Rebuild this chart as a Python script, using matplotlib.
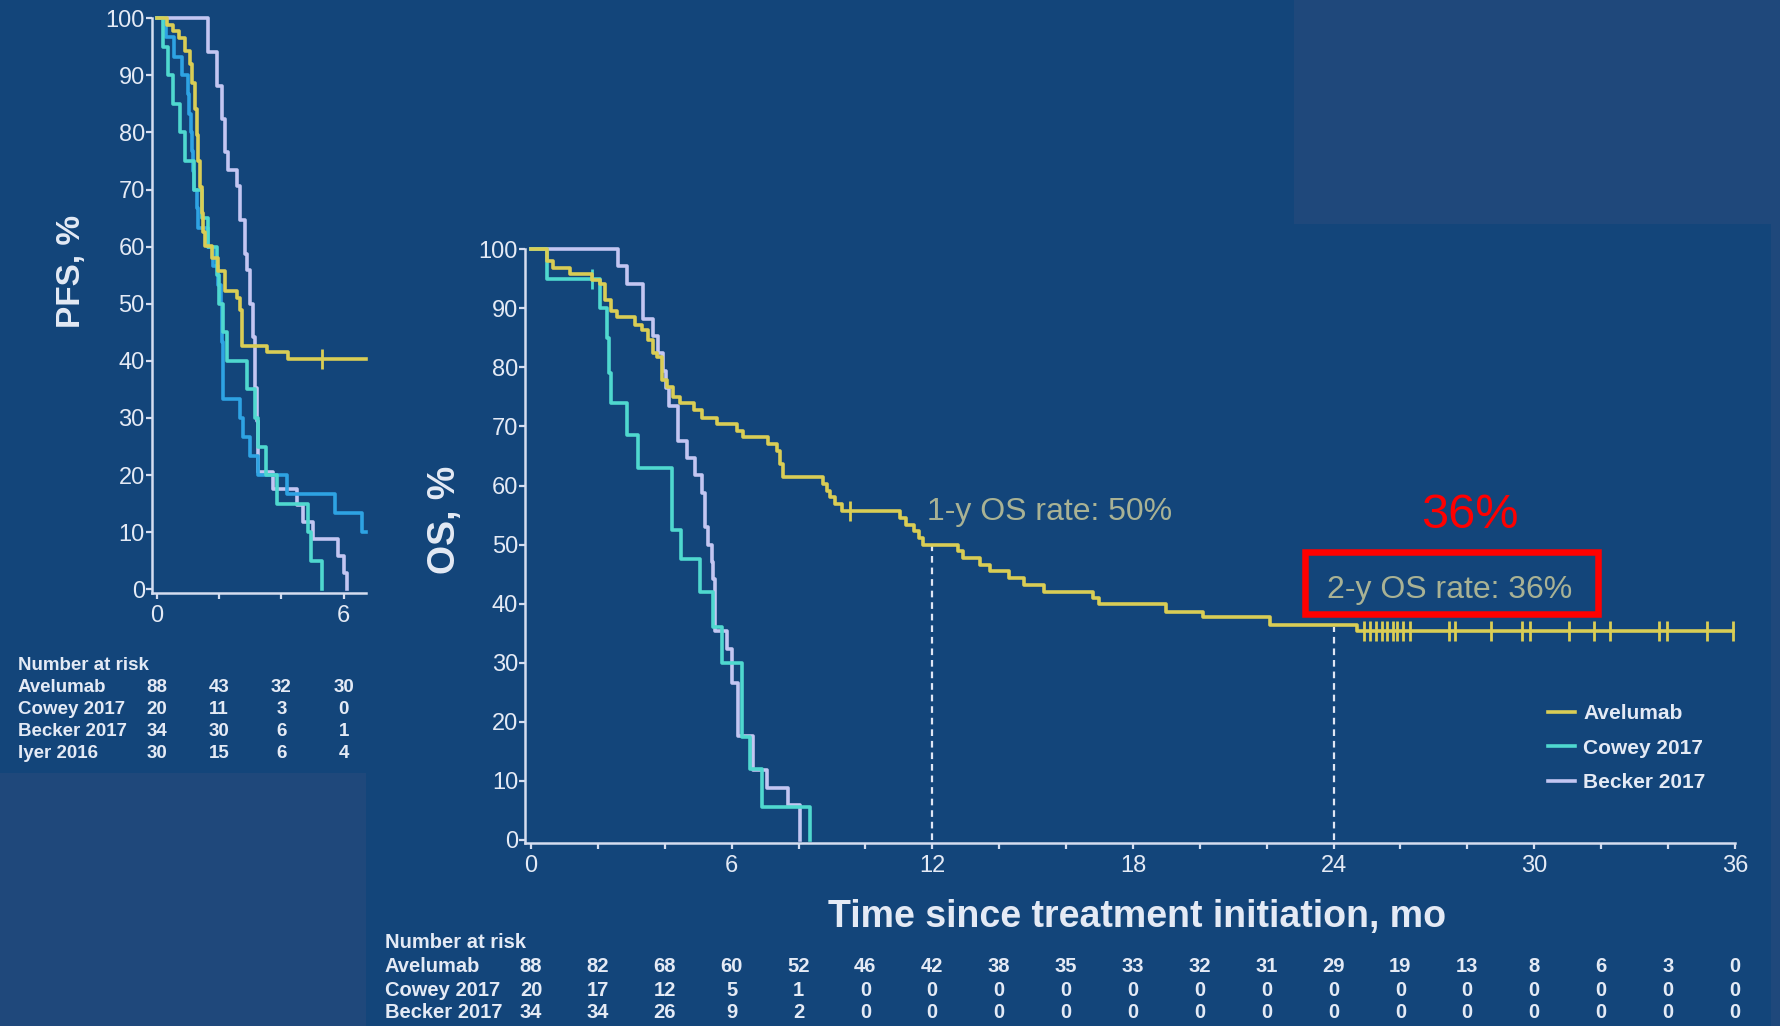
import matplotlib
matplotlib.use('Agg')
import matplotlib.pyplot as plt
from matplotlib import font_manager, transforms
from matplotlib.patches import Rectangle
from matplotlib.lines import Line2D

# pick Arial-like fonts if they are there
names = {f.name for f in font_manager.fontManager.ttflist}
base_font = 'Liberation Sans' if 'Liberation Sans' in names else 'DejaVu Sans'
narrow_font = 'Liberation Sans Narrow' if 'Liberation Sans Narrow' in names else base_font
plt.rcParams['font.family'] = [base_font, 'DejaVu Sans']

# colours
bg = '#13457a'
patch_bg = '#1f487b'
c_avel = '#d9cd55'
c_cowey = '#4fd8cf'
c_becker = '#c3c6f2'
c_iyer = '#2ea3e3'
fg = '#e4eaf5'
axis_c = '#d5ddf0'
note_c = '#a9b294'

# ---------------- OS data (months, % after each step) ----------------
os_avel_t = [0, 0.47, 0.67, 1.17, 1.81, 2.06, 2.2, 2.4, 2.56, 3.11,
             3.31, 3.51, 3.66, 3.78, 3.91, 4.06, 4.26, 4.46, 4.86, 5.1,
             5.55, 6.15, 6.35, 7.1, 7.35, 7.45, 7.55, 8.74, 8.85, 8.94,
             9.09, 9.3, 11.04, 11.2, 11.44, 11.6, 11.73, 12.78, 12.93, 13.43,
             13.73, 14.28, 14.73, 15.33, 16.8, 17.0, 19.0, 20.1, 22.1, 24.7]
os_avel_s = [100, 98.0, 96.8, 95.9, 94.8, 94.2, 91.5, 89.5, 88.6, 87.2,
             86.3, 84.6, 82.4, 81.8, 77.9, 76.7, 75.0, 73.9, 72.8, 71.4,
             70.5, 69.3, 68.2, 67.0, 65.9, 63.6, 61.4, 60.2, 59.1, 58.0,
             56.8, 55.7, 54.5, 53.4, 52.3, 51.1, 50.0, 48.9, 47.7, 46.6,
             45.5, 44.3, 43.2, 42.0, 40.9, 40.0, 38.6, 37.8, 36.4, 35.3]
os_avel_censor = [9.54, 24.90, 25.09, 25.27, 25.44, 25.61, 25.77, 25.89, 26.09, 26.29,
                  27.44, 27.64, 28.70, 29.63, 29.88, 31.03, 31.78, 32.27, 33.72, 33.97,
                  35.16, 35.94]

os_cowey_t = [0, 0.47, 2.06, 2.28, 2.33, 2.38, 2.88, 3.21, 4.21, 4.5, 5.05, 5.45, 5.7,
              6.3, 6.55, 6.9, 8.33]
os_cowey_s = [100, 95, 90, 85, 79, 74, 68.5, 63, 52.5, 47.5, 42, 36, 30,
              17.5, 12, 5.5, 0]
os_cowey_censor = [1.81]

os_becker_t = [0, 2.61, 2.86, 3.34, 3.64, 3.8, 3.95, 4.05, 4.12, 4.41, 4.66, 4.9, 5.1,
               5.2, 5.3, 5.4, 5.45, 5.5, 5.85, 6.0, 6.2, 6.65, 7.05, 7.7, 8.04]
os_becker_s = [100, 97.1, 94.1, 88.2, 85.3, 82.4, 79.4, 76.5, 73.5, 67.6, 64.7, 61.8, 58.8,
               52.9, 50.0, 47.1, 44.1, 35.3, 32.4, 26.5, 17.6, 11.8, 8.8, 5.9, 0]

landmark_months = [12, 24]
landmark_rates = [50, 36]

os_risk_months = [0, 2, 4, 6, 8, 10, 12, 14, 16, 18, 20, 22, 24, 26, 28, 30, 32, 34, 36]
os_risk_avel = [88, 82, 68, 60, 52, 46, 42, 38, 35, 33, 32, 31, 29, 19, 13, 8, 6, 3, 0]
os_risk_cowey = [20, 17, 12, 5, 1, 0, 0, 0, 0, 0, 0, 0, 0, 0, 0, 0, 0, 0, 0]
os_risk_becker = [34, 34, 26, 9, 2, 0, 0, 0, 0, 0, 0, 0, 0, 0, 0, 0, 0, 0, 0]

# ---------------- PFS data ----------------
pfs_avel_t = [0, 0.32, 0.53, 0.7, 0.9, 1.07, 1.12, 1.23, 1.29, 1.34, 1.39,
              1.44, 1.5, 1.55, 1.76, 1.98, 2.19, 2.56, 2.66, 2.72, 3.53, 4.22]
pfs_avel_s = [100, 98.9, 97.7, 96.6, 94.3, 92.0, 88.6, 84.1, 79.5, 75.0, 70.5,
              65.9, 62.5, 60.2, 58.0, 55.7, 52.3, 51.1, 48.9, 42.6, 41.5, 40.3]
pfs_avel_censor = [5.29]

pfs_cowey_t = [0, 0.21, 0.37, 0.53, 0.75, 0.91, 1.18, 1.45, 1.65, 1.92, 2.0, 2.14, 2.24,
               2.88, 3.15, 3.26, 3.5, 3.85, 4.86, 4.95, 5.29]
pfs_cowey_s = [100, 95, 90, 85, 80, 75, 70, 65, 60, 55, 50, 45, 40,
               35, 30, 25, 20, 15, 10, 5, 0]

pfs_becker_t = [0, 1.66, 1.92, 2.08, 2.19, 2.3, 2.56, 2.67, 2.83, 2.9, 3.0, 3.1,
                3.15, 3.2, 3.26, 3.74, 4.49, 4.7, 5.02, 5.82, 6.0, 6.09]
pfs_becker_s = [100, 94.1, 88.2, 82.4, 76.5, 73.5, 70.6, 64.7, 58.8, 55.9, 50.0, 44.1,
                35.3, 29.4, 20.6, 17.6, 14.7, 11.8, 8.8, 5.9, 2.9, 0]

pfs_iyer_t = [0, 0.3, 0.55, 0.8, 1.0, 1.05, 1.1, 1.13, 1.16, 1.2, 1.3, 1.34, 1.65,
              1.8, 1.95, 2.05, 2.08, 2.12, 2.67, 2.78, 2.99, 3.26, 4.17, 5.72, 6.57]
pfs_iyer_s = [100, 96.7, 93.3, 90.0, 86.7, 83.3, 80.0, 76.7, 73.3, 70.0, 66.7, 63.3, 60.0,
              56.7, 53.3, 50.0, 43.3, 33.3, 30.0, 26.7, 23.3, 20.0, 16.7, 13.3, 10.0]

pfs_risk_months = [0, 2, 4, 6]
pfs_risk_avel = [88, 43, 32, 30]
pfs_risk_cowey = [20, 11, 3, 0]
pfs_risk_becker = [34, 30, 6, 1]
pfs_risk_iyer = [30, 15, 6, 4]


def surv_at(t, s, x):
    v = s[0]
    for ti, si in zip(t, s):
        if ti <= x:
            v = si
    return v


def km(ax, t, s, color, end=None, censor=None, lw=2.6, z=3):
    tt = list(t)
    ss = list(s)
    if end is not None and end > tt[-1]:
        tt.append(end)
        ss.append(ss[-1])
    ax.step(tt, ss, where='post', color=color, lw=lw, clip_on=False, zorder=z)
    if censor:
        ax.plot(censor, [surv_at(t, s, c) for c in censor], ls='none', marker='|',
                ms=15, mew=2.0, color=color, clip_on=False, zorder=z)


def style(ax):
    ax.set_facecolor('none')
    ax.spines['top'].set_visible(False)
    ax.spines['right'].set_visible(False)
    for side in ['left', 'bottom']:
        ax.spines[side].set_color(axis_c)
        ax.spines[side].set_linewidth(1.8)
    ax.tick_params(colors=axis_c, labelcolor=fg, width=1.6, length=4.2, labelsize=17)
    ax.tick_params(axis='y', pad=0.8)
    ax.tick_params(axis='x', pad=5)


W, H = 1781, 1026
fig = plt.figure(figsize=(W / 100, H / 100), dpi=100)
fig.patch.set_facecolor(bg)

# lighter patches of the slide background
for x0, y0, x1, y1 in [(1294, 0, W, 224), (0, 773, 366, H), (1771, 224, W, H)]:
    fig.add_artist(Rectangle((x0 / W, 1 - y1 / H), (x1 - x0) / W, (y1 - y0) / H,
                             transform=fig.transFigure, color=patch_bg, zorder=-5, lw=0))

# ---------------- OS panel ----------------
ax = fig.add_axes([525 / W, 1 - 842.7 / H, (1734.8 - 525) / W, (842.7 - 249.3) / H])
style(ax)
ax.set_xlim(-0.18, 36)
ax.set_ylim(-0.47, 100)
ax.set_xticks(os_risk_months, [str(m) if m % 6 == 0 else '' for m in os_risk_months])
ax.set_yticks(range(0, 101, 10))

km(ax, os_becker_t, os_becker_s, c_becker, z=3)
km(ax, os_cowey_t, os_cowey_s, c_cowey, censor=os_cowey_censor, z=4)
km(ax, os_avel_t, os_avel_s, c_avel, end=max(os_avel_censor), censor=os_avel_censor, z=5)

for m, r in zip(landmark_months, landmark_rates):
    ax.plot([m, m], [0, r], color='#dfe6f4', lw=1.6, ls=(0, (3, 2.2)), zorder=2)

ax.text(11.83, 54.2, '1-y OS rate: 50%', fontsize=23, color=note_c, va='baseline')
ax.text(23.8, 41.0, '2-y OS rate: 36%', fontsize=23, color=note_c, va='baseline')
ax.add_patch(Rectangle((23.16, 38.2), 31.92 - 23.16, 48.8 - 38.2, fill=False,
                       ec='#ff0000', lw=4.7, clip_on=False, zorder=6))
ax.text(28.08, 52.8, '36%', fontsize=35, color='#ff0000', ha='center', va='baseline',
        family=[narrow_font, 'DejaVu Sans'])

handles = [Line2D([], [], color=c, lw=2.6) for c in (c_avel, c_cowey, c_becker)]
ax.legend(handles, ['Avelumab', 'Cowey 2017', 'Becker 2017'], loc='upper left',
          bbox_to_anchor=(1548 / W, 1 - 704 / H), bbox_transform=fig.transFigure,
          frameon=False, prop={'size': 15, 'weight': 'bold'}, labelcolor=fg,
          handlelength=1.3, handletextpad=0.4, labelspacing=0.75,
          borderpad=0, borderaxespad=0)

fig.text(1137 / W, 1 - 927 / H, 'Time since treatment initiation, mo', ha='center',
         va='baseline', fontsize=27, weight='bold', color=fg)
fig.text(445 / W, 1 - 520 / H, 'OS, %', rotation=90, ha='center', va='center',
         fontsize=27, weight='bold', color=fg)

# number at risk under OS
tr = transforms.blended_transform_factory(ax.transData, fig.transFigure)
fig.text(385 / W, 1 - 942 / H, 'Number at risk', fontsize=14.5, weight='bold',
         color=fg, va='center')
for lab, row, yp in [('Avelumab', os_risk_avel, 966), ('Cowey 2017', os_risk_cowey, 990),
                     ('Becker 2017', os_risk_becker, 1013)]:
    fig.text(385 / W, 1 - yp / H, lab, fontsize=14.5, weight='bold', color=fg, va='center')
    for m, n in zip(os_risk_months, row):
        ax.text(m, 1 - yp / H, str(n), transform=tr, fontsize=14.5, weight='bold',
                color=fg, ha='center', va='center')

# ---------------- PFS panel ----------------
ax2 = fig.add_axes([151.7 / W, 1 - 592.7 / H, (365.7 - 151.7) / W, (592.7 - 18.3) / H])
style(ax2)
ax2.set_xlim(-0.16, 6.7)
ax2.set_ylim(-0.6, 100)
ax2.set_xticks(pfs_risk_months, ['0', '', '', '6'])
ax2.set_yticks(range(0, 101, 10))

km(ax2, pfs_becker_t, pfs_becker_s, c_becker, z=3)
km(ax2, pfs_iyer_t, pfs_iyer_s, c_iyer, end=6.7, z=4)
km(ax2, pfs_cowey_t, pfs_cowey_s, c_cowey, z=5)
km(ax2, pfs_avel_t, pfs_avel_s, c_avel, end=6.7, censor=pfs_avel_censor, z=6)

fig.text(72 / W, 1 - 271 / H, 'PFS, %', rotation=90, ha='center', va='center',
         fontsize=24, weight='bold', color=fg)

tr2 = transforms.blended_transform_factory(ax2.transData, fig.transFigure)
fig.text(18 / W, 1 - 665 / H, 'Number at risk', fontsize=13.5, weight='bold',
         color=fg, va='center')
for lab, row, yp in [('Avelumab', pfs_risk_avel, 688), ('Cowey 2017', pfs_risk_cowey, 710),
                     ('Becker 2017', pfs_risk_becker, 732), ('Iyer 2016', pfs_risk_iyer, 753)]:
    fig.text(18 / W, 1 - yp / H, lab, fontsize=13.5, weight='bold', color=fg, va='center')
    for m, n in zip(pfs_risk_months, row):
        ax2.text(m, 1 - yp / H, str(n), transform=tr2, fontsize=13.5, weight='bold',
                 color=fg, ha='center', va='center')

fig.savefig('out.png', dpi=100, facecolor=bg)
